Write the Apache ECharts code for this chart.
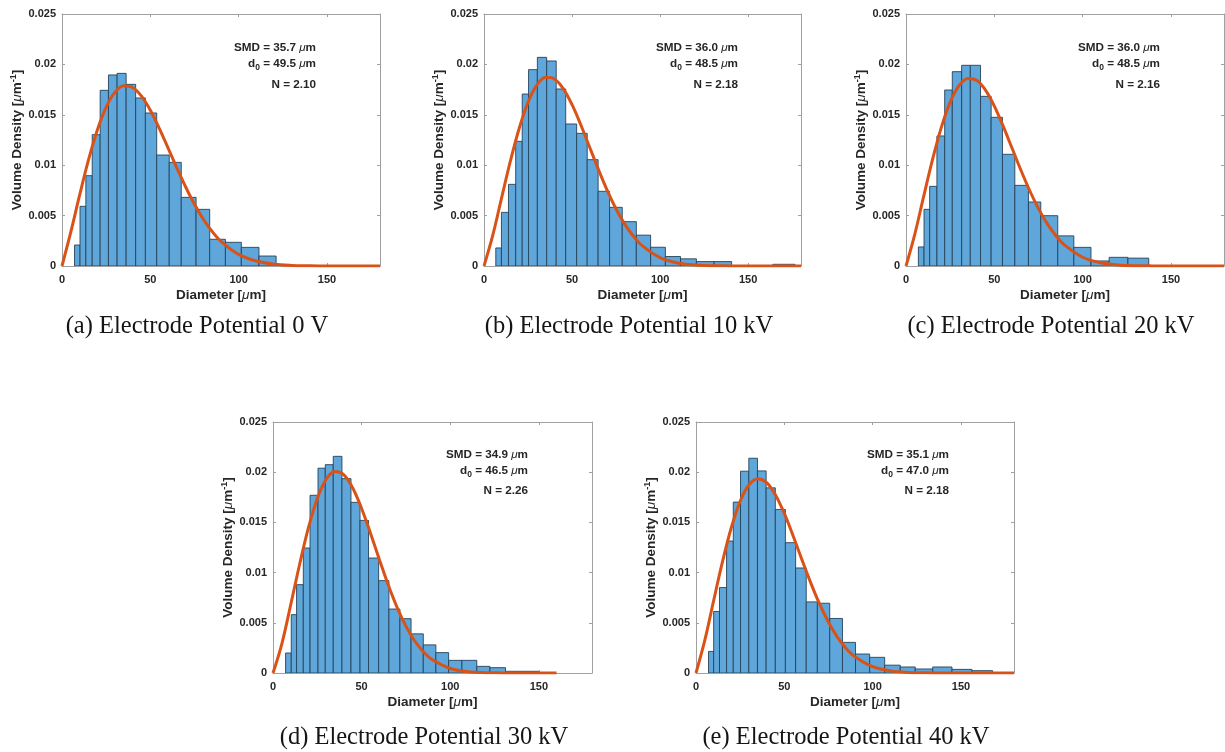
<!DOCTYPE html>
<html><head><meta charset="utf-8">
<script src="https://cdn.jsdelivr.net/npm/echarts@6/dist/echarts.min.js"></script>
<style>html,body{margin:0;padding:0;background:#fff}#c{width:1225px;height:752px}</style>
</head><body><div id="c"></div>
<script>
// ---------- data ----------
const xTicks = [0, 50, 100, 150];
const curveX = [0,5,10,15,20,25,30,35,40,45,50,55,60,65,70,75,80,85,90,100,110,120,130,140,150,160,170,180];
const curveXD = [0,5,10,15,20,25,30,35,40,45,50,55,60,65,70,75,80,85,90,100,110,120,130,140,150,160];

const edgesA = [7.1,10.2,13.5,17.1,21.6,26.3,31.2,36.3,41.7,47.2,53.6,60.7,67.5,75.9,83.6,92.5,101.5,111.5,121.2];
const densA  = [0.00208,0.00592,0.00896,0.01303,0.01743,0.01895,0.01911,0.01802,0.01667,0.01518,0.01101,0.01028,0.00681,0.00562,0.00265,0.00235,0.00185,0.00099];
const curveA = [0,0.00338,0.00705,0.01052,0.01349,0.01577,0.01725,0.01788,0.01771,0.01685,0.01545,0.01368,0.01172,0.00973,0.00784,0.00612,0.00464,0.00342,0.00245,0.00115,0.00049,0.00018,0.00006,0.00002,0,0,0,0];

const edgesB = [6.7,9.9,13.9,18.0,21.7,25.3,30.3,35.6,41.0,46.4,52.6,58.6,64.8,71.3,78.5,86.5,94.6,103.0,111.6,120.6,130.7,140.6,152.3,164.0,176.6];
const densB  = [0.00179,0.00532,0.00810,0.01237,0.01706,0.01948,0.02070,0.02034,0.01756,0.01409,0.01316,0.01055,0.00741,0.00582,0.00440,0.00306,0.00186,0.00094,0.00071,0.00044,0.00044,0,0,0.00017];
const curveB = [0,0.00306,0.00676,0.01042,0.01367,0.01624,0.01795,0.01872,0.01856,0.01760,0.01600,0.01399,0.01178,0.00956,0.00748,0.00566,0.00413,0.00292,0.00199,0.00083,0.00030,0.00010,0.00003,0.00001,0,0,0,0];

const edgesC = [7.0,10.2,13.4,17.5,21.9,26.2,31.5,36.4,42.2,48.2,54.6,61.6,69.3,76.3,85.9,95.0,104.7,115.0,125.6,137.4];
const densC  = [0.00189,0.00562,0.00790,0.01290,0.01746,0.01928,0.01991,0.01991,0.01683,0.01475,0.01108,0.00800,0.00635,0.00499,0.00299,0.00185,0.00050,0.00086,0.00078];
const curveC = [0,0.00317,0.00690,0.01055,0.01375,0.01626,0.01790,0.01861,0.01842,0.01744,0.01586,0.01387,0.01170,0.00952,0.00749,0.00569,0.00418,0.00297,0.00204,0.00087,0.00033,0.00011,0.00003,0.00001,0,0,0,0];

const edgesD = [7.1,10.3,13.3,17.1,20.9,25.4,29.5,34.0,38.9,44.0,49.1,53.9,59.6,65.4,71.6,77.9,84.8,91.9,99.1,106.6,115.0,122.4,131.2,150.0];
const densD  = [0.00199,0.00581,0.00880,0.01245,0.01770,0.02040,0.02075,0.02158,0.01936,0.01700,0.01520,0.01145,0.00920,0.00637,0.00541,0.00390,0.00280,0.00203,0.00126,0.00126,0.00066,0.00053,0.00017];
const curveD = [0,0.00291,0.00680,0.01081,0.01447,0.01739,0.01930,0.02007,0.01974,0.01843,0.01639,0.01393,0.01131,0.00879,0.00654,0.00467,0.00319,0.00209,0.00131,0.00045,0.00013,0.00003,0.00001,0,0,0];

const edgesE = [7.1,10.0,13.3,17.3,21.1,25.2,29.9,34.8,39.7,44.9,50.6,56.4,62.4,68.7,75.7,82.9,90.3,98.3,106.8,115.6,124.1,134.0,144.9,156.2,167.9];
const densE  = [0.00215,0.00613,0.00851,0.01314,0.01702,0.02010,0.02139,0.02013,0.01844,0.01629,0.01298,0.01046,0.00708,0.00695,0.00543,0.00305,0.00189,0.00156,0.00078,0.00060,0.00040,0.00060,0.00036,0.00023];
const curveE = [0,0.00327,0.00722,0.01109,0.01449,0.01711,0.01875,0.01936,0.01897,0.01774,0.01589,0.01365,0.01127,0.00895,0.00685,0.00505,0.00358,0.00245,0.00162,0.00063,0.00021,0.00006,0.00002,0,0,0,0,0];

const smdVals = ['35.7','36.0','36.0','34.9','35.1'];
const d0Vals  = ['49.5','48.5','48.5','46.5','47.0'];
const nVals   = ['2.10','2.18','2.16','2.26','2.18'];
const captions = ['(a) Electrode Potential 0 V','(b) Electrode Potential 10 kV','(c) Electrode Potential 20 kV','(d) Electrode Potential 30 kV','(e) Electrode Potential 40 kV'];

// ---------- layout / style ----------
const grids = [
  {left:62, top:14, width:318, height:252},
  {left:484, top:14, width:317, height:252},
  {left:906, top:14, width:318, height:252},
  {left:273, top:422, width:319, height:251},
  {left:696, top:422, width:318, height:251}
];
const textPos = [ {x:316,y:[48,64,85]}, {x:738,y:[48,64,85]}, {x:1160,y:[48,64,85]}, {x:528,y:[455,471,491]}, {x:949,y:[455,471,491]} ];
const capPos = [ [197,327], [629,327], [1051,327], [424,738], [846,738] ];

const panels = [
  {edges:edgesA, dens:densA, cx:curveX, cy:curveA},
  {edges:edgesB, dens:densB, cx:curveX, cy:curveB},
  {edges:edgesC, dens:densC, cx:curveX, cy:curveC},
  {edges:edgesD, dens:densD, cx:curveXD, cy:curveD},
  {edges:edgesE, dens:densE, cx:curveX, cy:curveE}
];

const FONT = '"Liberation Sans", Arial, sans-serif';
const AX = '#a0a0a0';
const LBL = '#262626';
const richName = {
  mu: {fontStyle:'italic', fontWeight:'normal', fontFamily:FONT, fontSize:13.5, color:LBL, lineHeight:18},
  sup: {fontWeight:'bold', fontFamily:FONT, fontSize:9, color:LBL, verticalAlign:'top', lineHeight:18, padding:[0,0,7,0]},
  b: {fontWeight:'bold', fontFamily:FONT, fontSize:13.5, color:LBL, lineHeight:18}
};
const richNote = {
  mu: {fontStyle:'italic', fontWeight:'normal', fontFamily:FONT, fontSize:11.7, color:LBL, lineHeight:16},
  sub: {fontWeight:'bold', fontFamily:FONT, fontSize:8.5, color:LBL, lineHeight:16, padding:[7,0,0,0]},
  b: {fontWeight:'bold', fontFamily:FONT, fontSize:11.7, color:LBL, lineHeight:16}
};

const option = {
  animation:false,
  backgroundColor:'#fff',
  grid: grids.map(g => Object.assign({containLabel:false}, g)),
  xAxis: [], yAxis: [], series: [], graphic: []
};

panels.forEach((p, i) => {
  option.xAxis.push({
    type:'value', gridIndex:i, min:0, max:180, position:'bottom',
    name:'{b|Diameter [}{mu|μ}{b|m]}', nameLocation:'middle', nameGap:20,
    nameTextStyle:{rich:richName},
    axisLine:{show:true, onZero:false, lineStyle:{color:AX, width:1}},
    axisTick:{show:true, inside:true, length:3, customValues:xTicks, lineStyle:{color:AX}},
    axisLabel:{show:true, customValues:xTicks, margin:8, color:LBL, fontWeight:'bold', fontSize:11, fontFamily:FONT},
    splitLine:{show:false}
  });
  option.xAxis.push({
    type:'value', gridIndex:i, min:0, max:180, position:'top',
    axisLine:{show:true, onZero:false, lineStyle:{color:AX, width:1}},
    axisTick:{show:true, inside:true, length:3, customValues:xTicks, lineStyle:{color:AX}},
    axisLabel:{show:false}, splitLine:{show:false}
  });
  option.yAxis.push({
    type:'value', gridIndex:i, min:0, max:0.025, interval:0.005, position:'left',
    name:'{b|Volume Density [}{mu|μ}{b|m}{sup|-1}{b|]}', nameLocation:'middle', nameGap:32, nameRotate:90,
    nameTextStyle:{rich:richName},
    axisLine:{show:true, onZero:false, lineStyle:{color:AX, width:1}},
    axisTick:{show:true, inside:true, length:3, lineStyle:{color:AX}},
    axisLabel:{show:true, margin:6, color:LBL, fontWeight:'bold', fontSize:11, fontFamily:FONT},
    splitLine:{show:false}
  });
  option.yAxis.push({
    type:'value', gridIndex:i, min:0, max:0.025, interval:0.005, position:'right',
    axisLine:{show:true, onZero:false, lineStyle:{color:AX, width:1}},
    axisTick:{show:true, inside:true, length:3, lineStyle:{color:AX}},
    axisLabel:{show:false}, splitLine:{show:false}
  });

  const barData = [];
  for (let k = 0; k < p.dens.length; k++) {
    if (p.dens[k] > 0) barData.push([p.edges[k], p.edges[k+1], p.dens[k]]);
  }
  option.series.push({
    type:'custom', xAxisIndex:2*i, yAxisIndex:2*i, clip:true, z:2,
    encode:{x:[0,1], y:2},
    data: barData,
    renderItem: function (params, api) {
      const a = api.coord([api.value(0), api.value(2)]);
      const b = api.coord([api.value(1), 0]);
      return {
        type:'rect',
        shape:{x:a[0], y:a[1], width:b[0]-a[0], height:b[1]-a[1]},
        style:{fill:'#5fa6da', stroke:'#26435a', lineWidth:0.9}
      };
    }
  });
  option.series.push({
    type:'line', xAxisIndex:2*i, yAxisIndex:2*i, z:3,
    data: p.cx.map((x, k) => [x, p.cy[k]]),
    showSymbol:false, smooth:0.35,
    lineStyle:{color:'#D95319', width:3}
  });

  const tp = textPos[i];
  const lines = [
    '{b|SMD = ' + smdVals[i] + ' }{mu|μ}{b|m}',
    '{b|d}{sub|0}{b| = ' + d0Vals[i] + ' }{mu|μ}{b|m}',
    '{b|N = ' + nVals[i] + '}'
  ];
  lines.forEach((t, k) => {
    option.graphic.push({
      type:'text', x:tp.x, y:tp.y[k], z:10,
      style:{text:t, align:'right', verticalAlign:'middle', rich:richNote, fill:LBL, font:'bold 11.7px ' + FONT}
    });
  });
  option.graphic.push({
    type:'text', x:capPos[i][0], y:capPos[i][1], z:10,
    style:{text:captions[i], align:'center', verticalAlign:'middle', fill:'#151515', font:'24.5px "Liberation Serif", "Times New Roman", serif'}
  });
});

const chart = echarts.init(document.getElementById('c'), null, {renderer:'canvas'});
chart.setOption(option);
</script>
</body></html>
